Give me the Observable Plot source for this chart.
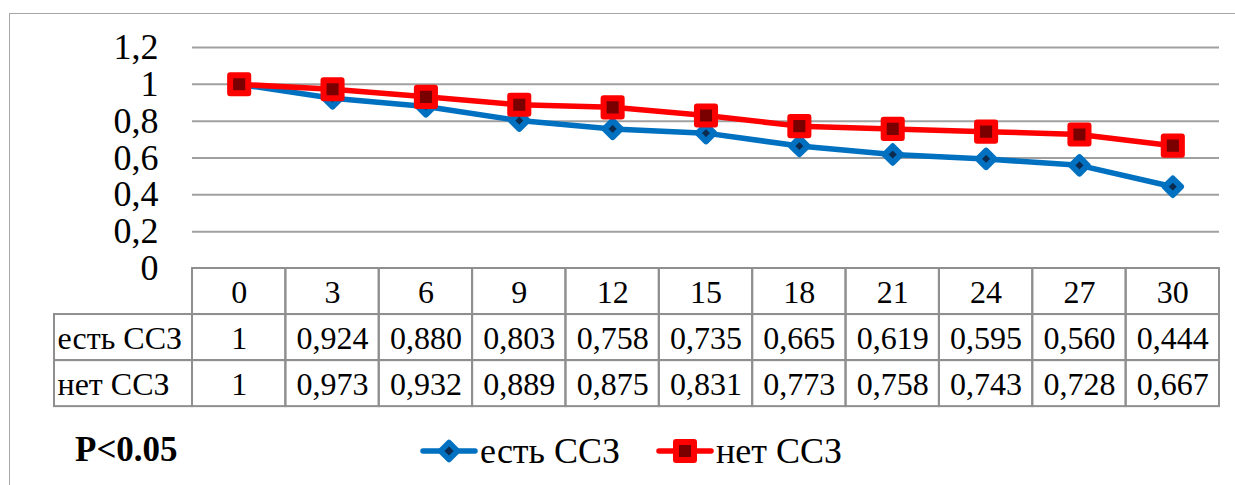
<!DOCTYPE html>
<html>
<head>
<meta charset="utf-8">
<script src="https://cdn.jsdelivr.net/npm/d3@7"></script>
<script src="https://cdn.jsdelivr.net/npm/@observablehq/plot@0.6"></script>
<style>
  html, body { margin: 0; padding: 0; background: #fff; }
  #wrap { position: relative; width: 1235px; height: 485px; overflow: hidden; font-family: "Liberation Serif", "Times New Roman", serif; }
  #border { position: absolute; left: 9px; top: 13px; width: 1300px; height: 600px; border-left: 1.5px solid #a6a6a6; border-top: 1.5px solid #a6a6a6; }
  #chart { position: absolute; left: 0; top: 0; }
  .leg { position: absolute; top: 430px; height: 42px; display: flex; align-items: center; font-size: 36px; color: #000; white-space: nowrap; }
  #pval { position: absolute; left: 75px; top: 429px; font-size: 35px; font-weight: bold; line-height: 42px; }
</style>
</head>
<body>
<div id="wrap">
  <div id="border"></div>
  <div id="chart"></div>
  <div id="pval">P&lt;0.05</div>
  <div class="leg" id="leg1" style="left:420px"></div>
  <div class="leg" id="leg2" style="left:656px"></div>
</div>
<script>
const months = [0, 3, 6, 9, 12, 15, 18, 21, 24, 27, 30];
const withCVD = [1, 0.924, 0.880, 0.803, 0.758, 0.735, 0.665, 0.619, 0.595, 0.560, 0.444];
const withoutCVD = [1, 0.973, 0.932, 0.889, 0.875, 0.831, 0.773, 0.758, 0.743, 0.728, 0.667];
const seriesNames = ["есть ССЗ", "нет ССЗ"];
const yTicks = [0, 0.2, 0.4, 0.6, 0.8, 1, 1.2];

const blue = "#0070C0", blueDark = "#0d2b4e";
const red = "#FF0000", redDark = "#7a0000";
const grid = "#a0a0a0", tableLine = "#8f8f8f";
const font = "Liberation Serif, Times New Roman, serif";

const fmtTick = v => String(v).replace(".", ",");
const fmtVal = v => v === 1 ? "1" : v.toFixed(3).replace(".", ",");

const s1 = months.map((m, i) => ({month: m, value: withCVD[i]}));
const s2 = months.map((m, i) => ({month: m, value: withoutCVD[i]}));

// table rows in y units below zero (each row = 0.25)
const rowH = 0.25;
const xStart = -1.5, xEnd = 31.5;
const plotLeft = 192, plotRight = 1219;
const labelColX = xStart - 138 / ((plotRight - plotLeft) / (xEnd - xStart));

const headerCells = months.map(m => ({month: m, y1: 0, y2: -rowH, text: String(m)}));
const valueCells = [];
[withCVD, withoutCVD].forEach((arr, r) => {
  months.forEach((m, i) => valueCells.push({month: m, y1: -rowH * (r + 1), y2: -rowH * (r + 2), text: fmtVal(arr[i])}));
});
const labelCells = seriesNames.map((name, r) => ({name, y1: -rowH * (r + 1), y2: -rowH * (r + 2)}));
const allCells = headerCells.concat(valueCells);

const chart = Plot.plot({
  width: 1235,
  height: 485,
  marginLeft: plotLeft,
  marginRight: 1235 - plotRight,
  marginTop: 47,
  marginBottom: 485 - 268,
  style: {fontFamily: font, background: "transparent", overflow: "visible"},
  x: {type: "linear", domain: [xStart, xEnd], axis: null},
  y: {type: "linear", domain: [0, 1.2], axis: null},
  marks: [
    Plot.ruleY(yTicks.filter(t => t > 0), {x1: xStart, x2: xEnd, stroke: grid, strokeWidth: 2}),
    Plot.axisY({ticks: yTicks, tickSize: 0, tickPadding: 34, tickFormat: fmtTick, fontSize: 36, fill: "#000", label: null, fontFamily: font}),
    // table
    Plot.rect(allCells, {x1: d => d.month - 1.5, x2: d => d.month + 1.5, y1: "y1", y2: "y2", fill: "none", stroke: tableLine, strokeWidth: 2}),
    Plot.rect(labelCells, {x1: labelColX, x2: xStart, y1: "y1", y2: "y2", fill: "none", stroke: tableLine, strokeWidth: 2}),
    Plot.text(allCells, {x: "month", y: d => (d.y1 + d.y2) / 2, text: "text", fontSize: 32, fill: "#000", dy: 1, fontFamily: font}),
    Plot.text(labelCells, {x: labelColX, y: d => (d.y1 + d.y2) / 2, text: "name", fontSize: 32, fill: "#000", textAnchor: "start", dx: 3, dy: 1, fontFamily: font}),
    // series
    Plot.line(s1, {x: "month", y: "value", stroke: blue, strokeWidth: 5.5}),
    Plot.dot(s1, {x: "month", y: "value", symbol: "diamond2", r: 7.4, fill: blueDark, stroke: blue, strokeWidth: 6, strokeLinejoin: "round"}),
    Plot.line(s2, {x: "month", y: "value", stroke: red, strokeWidth: 5.5}),
    Plot.dot(s2, {x: "month", y: "value", symbol: "square", r: 10.2, fill: redDark, stroke: red, strokeWidth: 6, strokeLinejoin: "round"})
  ]
});
document.getElementById("chart").appendChild(chart);

function swatch(color, dark, kind) {
  const ns = "http://www.w3.org/2000/svg";
  const svg = document.createElementNS(ns, "svg");
  svg.setAttribute("width", 58); svg.setAttribute("height", 30);
  svg.style.marginRight = "2px";
  const line = document.createElementNS(ns, "line");
  line.setAttribute("x1", 3); line.setAttribute("x2", 55); line.setAttribute("y1", 15); line.setAttribute("y2", 15);
  line.setAttribute("stroke", color); line.setAttribute("stroke-width", 5.5); line.setAttribute("stroke-linecap", "round");
  svg.appendChild(line);
  const p = document.createElementNS(ns, "path");
  p.setAttribute("d", kind === "square" ? "M20,6H38V24H20Z" : "M29,6.5L37.5,15L29,23.5L20.5,15Z");
  p.setAttribute("fill", dark); p.setAttribute("stroke", color);
  p.setAttribute("stroke-width", kind === "square" ? 6 : 5.5); p.setAttribute("stroke-linejoin", "round");
  svg.appendChild(p);
  return svg;
}
const l1 = document.getElementById("leg1");
l1.appendChild(swatch(blue, blueDark, "diamond"));
l1.appendChild(document.createTextNode(seriesNames[0]));
const l2 = document.getElementById("leg2");
l2.appendChild(swatch(red, redDark, "square"));
l2.appendChild(document.createTextNode(seriesNames[1]));
</script>
</body>
</html>
